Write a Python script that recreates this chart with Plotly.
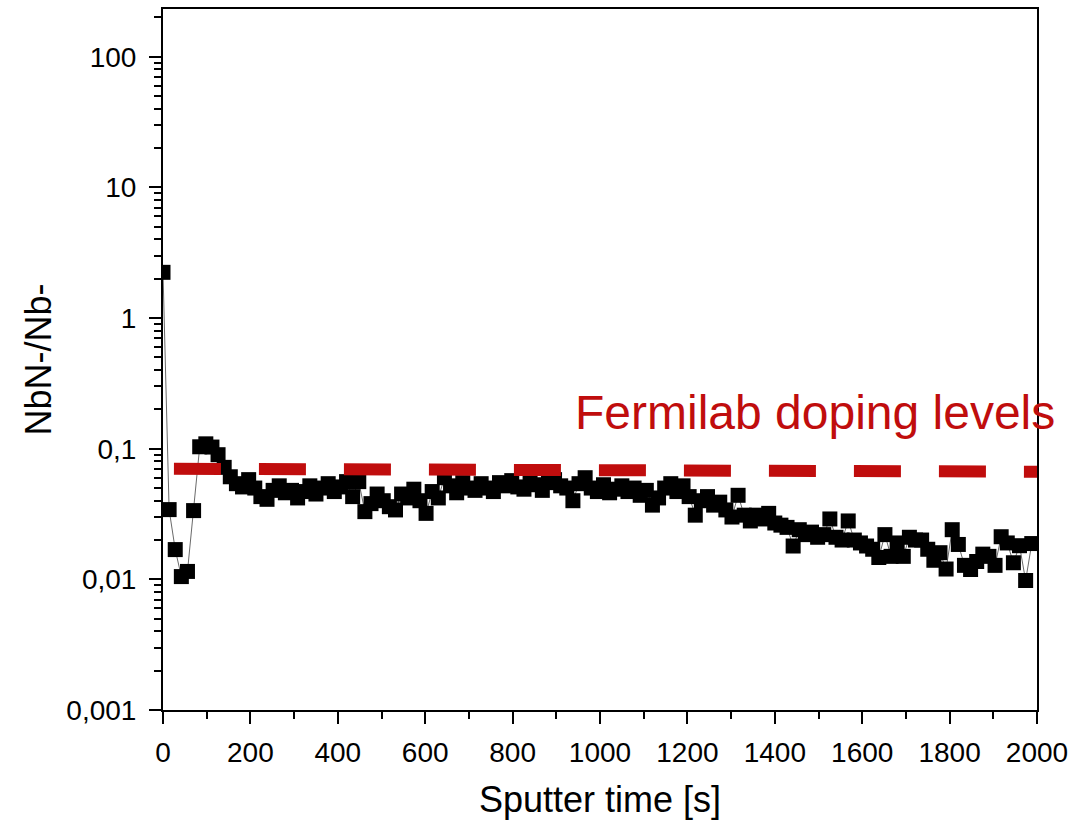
import plotly.graph_objects as go

# Sputter time [s]
time_s = [
    0, 14, 28, 42, 56, 70, 84, 98, 112, 126, 140, 154, 168, 182, 196, 210, 224, 238, 252, 266,
    280, 294, 308, 322, 336, 350, 364, 378, 392, 406, 420, 434, 448, 462, 476, 490, 504, 518, 532, 546,
    560, 574, 588, 602, 616, 630, 644, 658, 672, 686, 700, 714, 728, 742, 756, 770, 784, 798, 812, 826,
    840, 854, 868, 882, 896, 910, 924, 938, 952, 966, 980, 994, 1008, 1022, 1036, 1050, 1064, 1078, 1092, 1106,
    1120, 1134, 1148, 1162, 1176, 1190, 1204, 1218, 1232, 1246, 1260, 1274, 1288, 1302, 1316, 1330, 1344, 1358, 1372, 1386,
    1400, 1414, 1428, 1442, 1456, 1470, 1484, 1498, 1512, 1526, 1540, 1554, 1568, 1582, 1596, 1610, 1624, 1638, 1652, 1666,
    1680, 1694, 1708, 1722, 1736, 1750, 1764, 1778, 1792, 1806, 1820, 1834, 1848, 1862, 1876, 1890, 1904, 1918, 1932, 1946,
    1960, 1974, 1988,
]
# NbN-/Nb- ratio
ratio = [
    2.24, 0.0342, 0.0169, 0.0105, 0.0115, 0.0336, 0.1035, 0.109, 0.103, 0.090, 0.072, 0.061, 0.054, 0.051, 0.058, 0.050, 0.043, 0.041, 0.048, 0.052,
    0.046, 0.048, 0.042, 0.047, 0.052, 0.045, 0.050, 0.054, 0.047, 0.051, 0.056, 0.043, 0.056, 0.033, 0.038, 0.045, 0.040, 0.036, 0.034, 0.045,
    0.042, 0.049, 0.040, 0.032, 0.047, 0.042, 0.060, 0.052, 0.046, 0.055, 0.050, 0.048, 0.054, 0.050, 0.047, 0.055, 0.052, 0.057, 0.051, 0.049,
    0.056, 0.053, 0.048, 0.055, 0.058, 0.052, 0.050, 0.040, 0.054, 0.060, 0.050, 0.047, 0.053, 0.046, 0.049, 0.052, 0.047, 0.050, 0.044, 0.048,
    0.037, 0.042, 0.050, 0.054, 0.047, 0.052, 0.043, 0.031, 0.040, 0.043, 0.037, 0.039, 0.034, 0.030, 0.044, 0.031, 0.028, 0.031, 0.029, 0.032,
    0.027, 0.026, 0.025, 0.018, 0.024, 0.022, 0.023, 0.021, 0.022, 0.029, 0.021, 0.020, 0.028, 0.020, 0.019, 0.018, 0.017, 0.0147, 0.022, 0.015,
    0.019, 0.015, 0.021, 0.020, 0.020, 0.017, 0.014, 0.016, 0.012, 0.024, 0.0185, 0.0128, 0.0119, 0.0137, 0.0156, 0.015, 0.0128, 0.0212, 0.019, 0.0134,
    0.0181, 0.0098, 0.0188,
]

# Fermilab doping level reference line
doping_time = [25, 2010]
doping_level = [0.0703, 0.0667]
doping_label = "Fermilab doping levels"

y_tickvals = [0.001, 0.01, 0.1, 1, 10, 100]
y_ticktext = ["0,001", "0,01", "0,1", "1", "10", "100"]
y_minorvals = [m * 10.0 ** e for e in range(-3, 3) for m in range(2, 10)]

x_tickvals = [0, 200, 400, 600, 800, 1000, 1200, 1400, 1600, 1800, 2000]

FONT = "Liberation Sans, Arial, sans-serif"
RED = "#C00D0D"

fig = go.Figure()
fig.add_trace(go.Scatter(
    x=time_s, y=ratio, mode="lines+markers",
    line=dict(color="#6a6a6a", width=1),
    marker=dict(symbol="square", size=15, color="black", line=dict(width=0)),
    showlegend=False,
))
fig.add_trace(go.Scatter(
    x=doping_time, y=doping_level, mode="lines",
    line=dict(color=RED, width=12, dash="47px,38px"),
    showlegend=False,
))

fig.add_annotation(
    x=1493, y=-0.722, xref="x", yref="y", text=doping_label, showarrow=False,
    font=dict(family=FONT, size=48, color=RED), xanchor="center", yanchor="middle",
)

fig.update_layout(
    width=1091, height=821,
    margin=dict(l=163, r=54, t=7, b=111),
    paper_bgcolor="white", plot_bgcolor="white",
    font=dict(family=FONT, color="black"),
)
fig.update_xaxes(
    range=[0, 2000], tickvals=x_tickvals,
    showline=True, linewidth=2, linecolor="black", mirror=True,
    ticks="outside", ticklen=12, tickwidth=2, tickcolor="black",
    minor=dict(ticks="outside", ticklen=7, tickwidth=2, tickcolor="black", dtick=100, showgrid=False),
    showgrid=False, zeroline=False, ticklabelstandoff=4,
    tickfont=dict(size=28, family=FONT),
    title=dict(text="Sputter time [s]", font=dict(size=36, family=FONT), standoff=20),
)
fig.update_yaxes(
    type="log", range=[-3, 2.366],
    tickmode="array", tickvals=y_tickvals, ticktext=y_ticktext,
    showline=True, linewidth=2, linecolor="black", mirror=True,
    ticks="outside", ticklen=12, tickwidth=2, tickcolor="black",
    minor=dict(ticks="outside", ticklen=7, tickwidth=2, tickcolor="black",
               tickmode="array", tickvals=y_minorvals, showgrid=False),
    showgrid=False, zeroline=False, ticklabelstandoff=7,
    tickfont=dict(size=28, family=FONT),
    title=dict(text="NbN-/Nb-", font=dict(size=36, family=FONT), standoff=4),
)

fig.write_html("out.html")
